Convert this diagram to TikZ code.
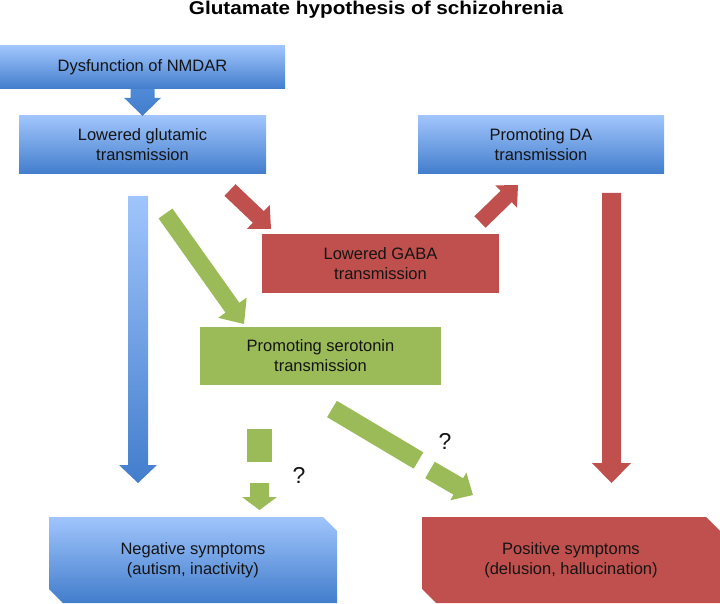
\documentclass[tikz,border=0pt]{standalone}
\usepackage{fontspec}
\setmainfont{Liberation Sans}
\usetikzlibrary{calc}
\definecolor{bTop}{RGB}{160,197,252}
\definecolor{bBot}{RGB}{66,125,204}
\definecolor{bDark}{RGB}{78,138,214}
\definecolor{rd}{RGB}{192,80,77}
\definecolor{gr}{RGB}{155,187,89}
\definecolor{txt}{RGB}{20,20,20}
% block arrow: #1 style, #2 from, #3 to, #4 shaft half width, #5 head half width, #6 head length
\newcommand\blkarrow[6]{%
  \coordinate (bkH) at ($(#3)!#6!(#2)$);
  \path[#1] ($(#2)!#4!90:(#3)$) -- ($(bkH)!#4!90:(#3)$) -- ($(bkH)!#5!90:(#3)$) -- (#3)
     -- ($(bkH)!#5!-90:(#3)$) -- ($(bkH)!#4!-90:(#3)$) -- ($(#2)!#4!-90:(#3)$) -- cycle;}
% block bar: #1 style, #2 from, #3 to, #4 half width
\newcommand\blkbar[4]{%
  \path[#1] ($(#2)!#4!90:(#3)$) -- ($(#3)!#4!-90:(#2)$) -- ($(#3)!#4!90:(#2)$) -- ($(#2)!#4!-90:(#3)$) -- cycle;}
\begin{document}
\begin{tikzpicture}[x=1pt,y=-1pt,
  lbl/.style={font=\fontsize{16.5}{20}\selectfont, text=txt, align=center, inner sep=0pt},
  qmark/.style={font=\fontsize{23}{26}\selectfont, text=txt, inner sep=0pt},
  bluebox/.style={lbl, top color=bTop, bottom color=bBot, draw=none},
  redbox/.style={lbl, fill=rd, draw=none},
  greenbox/.style={lbl, fill=gr, draw=none},
  bluefill/.style={top color=bTop, bottom color=bBot},
  bluedark/.style={top color=bDark, bottom color=bBot},
  redfill/.style={fill=rd},
  greenfill/.style={fill=gr}]
\useasboundingbox (0,0) rectangle (720,604);

% title
\node[anchor=base, inner sep=0pt, text=black] (title) at (376,15)
  {\scalebox{1.12}[1]{\fontsize{18.5}{22}\selectfont\bfseries Glutamate hypothesis of schizohrenia}};

% boxes
\node[bluebox, minimum width=285pt, minimum height=43pt] (dys) at (142.5,67.5) {Dysfunction of NMDAR};
\node[bluebox, minimum width=247pt, minimum height=58pt] (glu) at (142.5,145) {Lowered glutamic\\transmission};
\node[bluebox, minimum width=246pt, minimum height=58pt] (da) at (541,145) {Promoting DA\\transmission};
\node[redbox, minimum width=237pt, minimum height=59pt] (gaba) at (380.5,263.5) {Lowered GABA\\transmission};
\node[greenbox, minimum width=241pt, minimum height=58pt] (sero) at (320.5,356) {Promoting serotonin\\transmission};

% snipped symptom boxes
\shade[bluefill] (49,517) -- (323,517) -- (337,531) -- (337,603) -- (63,603) -- (49,589) -- cycle;
\node[lbl] (neg) at (193,560) {Negative symptoms\\(autism, inactivity)};
\fill[rd] (422,517) -- (706,517) -- (720,531) -- (720,603) -- (436,603) -- (422,589) -- cycle;
\node[lbl] (pos) at (571,560) {Positive symptoms\\(delusion, hallucination)};

% question marks
\node[qmark] (q1) at (299,475) {?};
\node[qmark] (q2) at (445,441) {?};

% arrow end points
\coordinate (b1s) at (138,196);   \coordinate (b1e) at (138,483);
\coordinate (r1s) at (230,190);   \coordinate (r1e) at (271,229);
\coordinate (r2s) at (480,222);   \coordinate (r2e) at (518,185);
\coordinate (r3s) at (611.5,193); \coordinate (r3e) at (611.5,483);
\coordinate (g1s) at (165.5,213.5); \coordinate (g1e) at (244,324);
\coordinate (g2s) at (259.5,429); \coordinate (g2m) at (259.5,462);
\coordinate (g2n) at (259.5,483); \coordinate (g2e) at (259.5,510);
\coordinate (g3s) at (332,409);   \coordinate (g3m) at (418.5,460.5);
\coordinate (g3n) at (430,470);   \coordinate (g3e) at (473,495);

% arrows
\blkarrow{shade, bluedark}{dys.south}{glu.north}{12pt}{18.5pt}{18pt}
\blkarrow{shade, bluefill}{b1s}{b1e}{10pt}{19pt}{18pt}
\blkarrow{redfill}{r1s}{r1e}{8pt}{16.5pt}{17.5pt}
\blkarrow{redfill}{r2s}{r2e}{8pt}{15.5pt}{16.5pt}
\blkarrow{redfill}{r3s}{r3e}{9.5pt}{19.5pt}{20pt}
\blkarrow{greenfill}{g1s}{g1e}{8.5pt}{17.5pt}{20pt}
\blkbar{greenfill}{g2s}{g2m}{12.5pt}
\blkarrow{greenfill}{g2n}{g2e}{9.5pt}{17.5pt}{13pt}
\blkbar{greenfill}{g3s}{g3m}{9.5pt}
\blkarrow{greenfill}{g3n}{g3e}{9.5pt}{16pt}{17pt}
\end{tikzpicture}
\end{document}
